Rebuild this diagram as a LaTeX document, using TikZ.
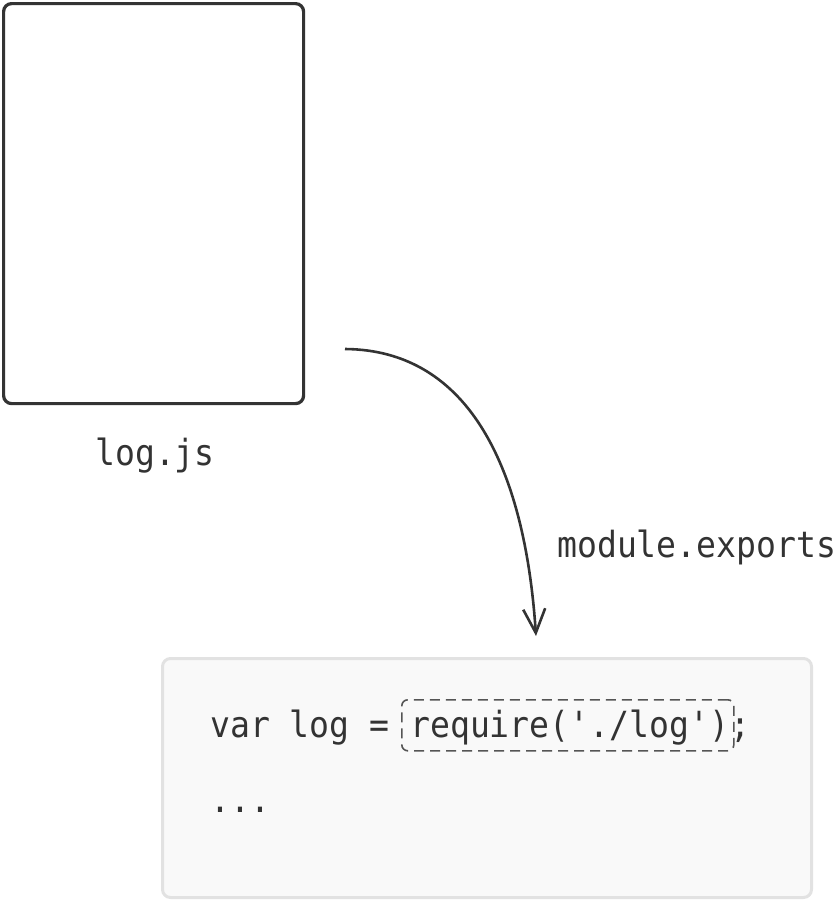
\documentclass[tikz,border=0pt]{standalone}
\usepackage{fontspec}
\usetikzlibrary{arrows.meta}
\newfontfamily\codefont[FakeStretch=0.92]{DejaVu Sans Mono}
\definecolor{ink}{HTML}{333333}
\definecolor{codebg}{HTML}{F9F9F9}
\definecolor{codeline}{HTML}{E2E2E2}
\definecolor{dashc}{HTML}{555555}
\tikzset{
  filebox/.style={draw=ink, line width=3.2pt, rounded corners=8pt},
  codebox/.style={draw=codeline, fill=codebg, line width=3pt, rounded corners=8pt},
  codetext/.style={font=\codefont\fontsize{36}{40}\selectfont, text=ink, inner sep=0pt},
  hl/.style={draw=dashc, line width=1.6pt, dash pattern=on 10pt off 6pt, rounded corners=6pt},
  flow/.style={draw=ink, line width=2.6pt, -{Straight Barb[length=24pt,width=22pt,line width=2.6pt]}}
}
\begin{document}
\begin{tikzpicture}[x=1pt,y=-1pt]
\useasboundingbox (0,0) rectangle (837,900);
\node[filebox, minimum width=300pt, minimum height=400pt, anchor=north west] (file) at (2,2) {};
\node[codetext, anchor=base west] (fname) at (95,465) {log.js};
\node[codebox, minimum width=649pt, minimum height=239pt, anchor=north west] (code) at (161,657) {};
\node[codetext, anchor=base west] (l1) at (210,737) {var log =};
\node[codetext, anchor=base west] (req) at (410,737) {require('./log')};
\node[codetext, anchor=base west] (semi) at (730,737) {;};
\node[hl, minimum width=332pt, minimum height=51pt, anchor=north west] (hlbox) at (401,699) {};
\node[codetext, anchor=base west] (dots) at (210,812) {...};
\node[codetext, anchor=base west] (lbl) at (557,557) {module.exports};
\coordinate (start) at (345,349);
\coordinate (tip) at (536,636);
\draw[flow] (start) .. controls (470,350) and (525,470) .. (tip);
\end{tikzpicture}
\end{document}
